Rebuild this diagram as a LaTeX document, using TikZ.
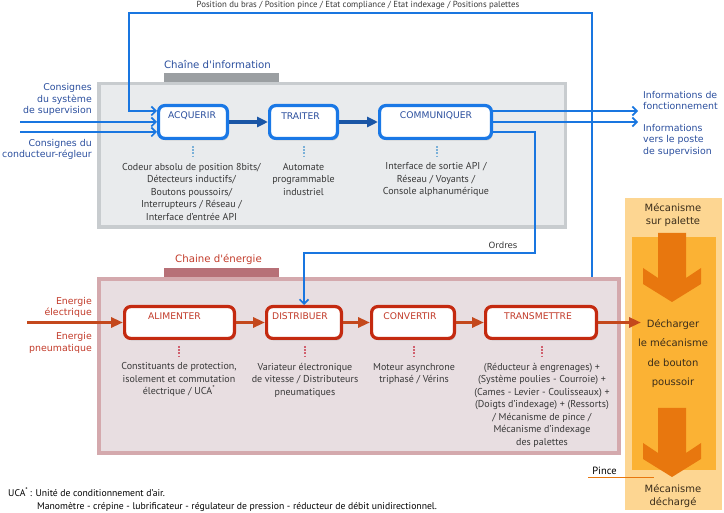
\documentclass[tikz,border=0pt]{standalone}
\usepackage{fontspec}
\setmainfont{PT Sans}
\newfontfamily\lblfont{DejaVu Sans}
\usetikzlibrary{arrows.meta,shadows}
\definecolor{infofill}{HTML}{E9EBED}
\definecolor{infoborder}{HTML}{C8CCCF}
\definecolor{infotab}{HTML}{9B9FA2}
\definecolor{enfill}{HTML}{E8DEE1}
\definecolor{enborder}{HTML}{D4A9AD}
\definecolor{entab}{HTML}{B77077}
\definecolor{bluebox}{HTML}{1A78E6}
\definecolor{blueline}{HTML}{1976E0}
\definecolor{bluedark}{HTML}{1A56A6}
\definecolor{bluetext}{HTML}{2B4F9E}
\definecolor{redbox}{HTML}{C42A10}
\definecolor{redarrow}{HTML}{C4481C}
\definecolor{redtext}{HTML}{C23B2A}
\definecolor{bluedot}{HTML}{7AB0D8}
\definecolor{reddot}{HTML}{D0606E}
\definecolor{orlight}{HTML}{FDD692}
\definecolor{ormid}{HTML}{FBB234}
\definecolor{ordark}{HTML}{E8770E}
\definecolor{bodytext}{HTML}{383838}
\definecolor{ortext}{HTML}{3A2C1A}
\tikzset{
  boxshadow/.style={drop shadow={shadow xshift=1.2pt, shadow yshift=-2pt, opacity=.25, fill=black!70}},
  ibox/.style={draw=bluebox, line width=3.2pt, fill=white, rounded corners=6pt, boxshadow, minimum height=32.8pt, inner sep=0pt},
  ebox/.style={draw=redbox, line width=3.2pt, fill=white, rounded corners=6pt, boxshadow, minimum height=31.8pt, inner sep=0pt},
  boxlbl/.style={font=\lblfont\fontsize{9.2}{11}\selectfont, inner sep=0pt},
  desc/.style={font=\fontsize{10}{12.5}\selectfont, text=bodytext, align=center, inner sep=0pt},
  sidelbl/.style={font=\lblfont\fontsize{9.4}{11.5}\selectfont, inner sep=0pt},
  titlelbl/.style={font=\lblfont\fontsize{10.2}{12}\selectfont, inner sep=0pt},
  orlbl/.style={font=\lblfont\fontsize{10}{13}\selectfont, text=ortext, align=center, inner sep=0pt},
  thinarrow/.style={draw=blueline, line width=1.7pt, -{Straight Barb[length=4.5pt,width=9pt]}},
  infoarrow/.style={draw=bluedark, line width=4pt, -{Triangle[length=11pt,width=10pt]}},
  enarrow/.style={draw=redarrow, line width=3.5pt, -{Triangle[length=12pt,width=10pt]}},
  bdots/.style={draw=bluedot, line width=1.5pt, dash pattern=on 1.6pt off 1.6pt},
  rdots/.style={draw=reddot, line width=1.2pt, dash pattern=on 1.6pt off 1.6pt},
}
\begin{document}
\begin{tikzpicture}[x=1pt,y=-1pt]
\useasboundingbox (0,0) rectangle (724,513);
% orange column
\fill[orlight] (625,198) rectangle (722,510);
\fill[ormid] (632,237) rectangle (716,470);
\fill[ordark] (658,233) -- (686,233) -- (686,278) -- (701,268) -- (701,284) -- (672,302) -- (643,284) -- (643,268) -- (658,278) -- cycle;
\fill[ordark] (658,408) -- (686,408) -- (686,453) -- (701,443) -- (701,459) -- (672,477) -- (643,459) -- (643,443) -- (658,453) -- cycle;
\node[orlbl] (surpal) at (673,215) {Mécanisme\\sur palette};
\node[orlbl, font=\lblfont\fontsize{10}{19.5}\selectfont] (dech) at (673,353.5) {Décharger\\le mécanisme\\de bouton\\poussoir};
\node[orlbl] (decharge) at (673,496.5) {Mécanisme\\déchargé};

% information chain
\node[draw=infoborder, fill=infofill, line width=3.5pt, minimum width=466.5pt, minimum height=143.5pt, inner sep=0pt] (info) at (332,155.5) {};
\fill[infotab] (164,73) rectangle (279,82);
\node[titlelbl, text=bluetext] (infotitle) at (217.5,64) {Chaîne d'information};

\node[ibox, minimum width=68.8pt] (acq) at (193,122) {};
\node[ibox, minimum width=67.8pt] (trait) at (303.5,122) {};
\node[ibox, minimum width=111.8pt] (com) at (435.5,122) {};
\node[boxlbl, text=bluetext] (acqlbl) at (192,116) {ACQUERIR};
\node[boxlbl, text=bluetext] (traitlbl) at (300.5,116) {TRAITER};
\node[boxlbl, text=bluetext] (comlbl) at (436,116) {COMMUNIQUER};

\draw[infoarrow] (acq) -- (trait);
\draw[infoarrow] (trait) -- (com);

\draw[bdots] (193,146) -- (193,158);
\draw[bdots] (304,146) -- (304,158);
\draw[bdots] (437,146) -- (437,158);

\node[desc] (acqdesc) at (191.5,192) {Codeur absolu de position 8bits/\\Détecteurs inductifs/\\Boutons poussoirs/\\Interrupteurs / Réseau /\\Interface d'entrée API};
\node[desc] (traitdesc) at (303.5,179.5) {Automate\\programmable\\industriel};
\node[desc] (comdesc) at (436,179.5) {Interface de sortie API /\\Réseau / Voyants /\\Console alphanumérique};

% energy chain
\node[draw=enborder, fill=enfill, line width=4pt, minimum width=520pt, minimum height=174pt, inner sep=0pt] (en) at (359,366) {};
\fill[entab] (164,268) rectangle (279,277);
\node[titlelbl, text=redtext] (entitle) at (218.5,259) {Chaine d'énergie};

\node[ebox, minimum width=109.8pt] (alim) at (179.5,322.5) {};
\node[ebox, minimum width=74.8pt] (dist) at (304,322.5) {};
\node[ebox, minimum width=82.8pt] (conv) at (413,322.5) {};
\node[ebox, minimum width=110.8pt] (trans) at (541,322.5) {};
\node[boxlbl, text=redtext] (alimlbl) at (174.5,316) {ALIMENTER};
\node[boxlbl, text=redtext] (distlbl) at (300,316) {DISTRIBUER};
\node[boxlbl, text=redtext] (convlbl) at (410,316) {CONVERTIR};
\node[boxlbl, text=redtext] (translbl) at (538,316) {TRANSMETTRE};

\draw[enarrow] (alim) -- (dist);
\draw[enarrow] (dist) -- (conv);
\draw[enarrow] (conv) -- (trans);
\coordinate (ein) at (27,322.5);
\coordinate (eout) at (641,322.5);
\draw[enarrow] (ein) -- (alim);
\draw[enarrow] (trans) -- (eout);

\draw[rdots] (179,346) -- (179,358);
\draw[rdots] (305,346) -- (305,358);
\draw[rdots] (414,346) -- (414,358);
\draw[rdots] (542,346) -- (542,358);

\node[desc] (alimdesc) at (179,379.5) {Constituants de protection,\\isolement et commutation\\électrique / UCA\textsuperscript{*}};
\node[desc] (distdesc) at (305,380) {Variateur électronique\\de vitesse / Distributeurs\\pneumatiques};
\node[desc] (convdesc) at (414,374) {Moteur asynchrone\\triphasé / Vérins};
\node[desc] (transdesc) at (542,405) {(Réducteur à engrenages) +\\(Système poulies - Courroie) +\\(Cames - Levier - Coulisseaux) +\\(Doigts d'indexage) + (Ressorts)\\/ Mécanisme de pince /\\Mécanisme d'indexage\\des palettes};

% side labels
\node[sidelbl, text=bluetext, align=right, anchor=east] (cons1) at (92,99.5) {Consignes\\du système\\de supervision};
\node[sidelbl, text=bluetext, align=right, anchor=east] (cons2) at (92,149.5) {Consignes du\\conducteur-régleur};
\node[sidelbl, text=redtext, align=right, anchor=east] (enel) at (92,307.5) {Energie\\électrique};
\node[sidelbl, text=redtext, align=right, anchor=east] (enpn) at (92,343) {Energie\\pneumatique};
\node[sidelbl, text=bluetext, align=left, anchor=west] (inf1) at (643,100.5) {Informations de\\fonctionnement};
\node[sidelbl, text=bluetext, align=left, anchor=west] (inf2) at (643,140) {Informations\\vers le poste\\de supervision};

% blue connectors
\coordinate (in1) at (20,122);
\coordinate (in2) at (20,132);
\draw[thinarrow] (in1) -- (acq.west);
\draw[thinarrow] (in2) -- (in2 -| acq.west);

\coordinate (fb1) at (592,13);
\coordinate (fb2) at (129,13);
\coordinate (fb3) at (129,111);
\draw[thinarrow] (fb1 |- en.north) -- (fb1) -- (fb2) -- (fb3) -- (fb3 -| acq.west);
\node[font=\fontsize{8.8}{10}\selectfont, text=bodytext, inner sep=0pt] (fblbl) at (358,5) {Position du bras / Position pince / Etat compliance / Etat indexage / Positions palettes};

\coordinate (out1) at (638,111);
\coordinate (out2) at (638,122);
\draw[thinarrow] (com.east |- out1) -- (out1);
\draw[thinarrow] (com.east) -- (out2);

\coordinate (or1) at (535,132);
\coordinate (or2) at (535,253);
\draw[thinarrow] (com.east |- or1) -- (or1) -- (or2) -- (or2 -| dist.north) -- (dist.north);
\node[font=\lblfont\fontsize{8.6}{10}\selectfont, text=bodytext, inner sep=0pt] (ordres) at (503,245) {Ordres};

% pince
\node[font=\fontsize{10.5}{12}\selectfont, text=black, inner sep=0pt] (pince) at (604.5,471) {Pince};
\coordinate (p1) at (588,477.5);
\coordinate (p2) at (654,477.5);
\draw[ordark, line width=1.3pt] (p1) -- (p2);

% footnote
\node[font=\fontsize{9.7}{11}\selectfont, text=black, anchor=west, inner sep=0pt] (fn1) at (8,492) {UCA\textsuperscript{*}\,: Unité de conditionnement d'air.};
\node[font=\fontsize{9.7}{11}\selectfont, text=black, anchor=west, inner sep=0pt] (fn2) at (37,507) {Manomètre - crépine - lubrificateur - régulateur de pression - réducteur de débit unidirectionnel.};
\end{tikzpicture}
\end{document}
